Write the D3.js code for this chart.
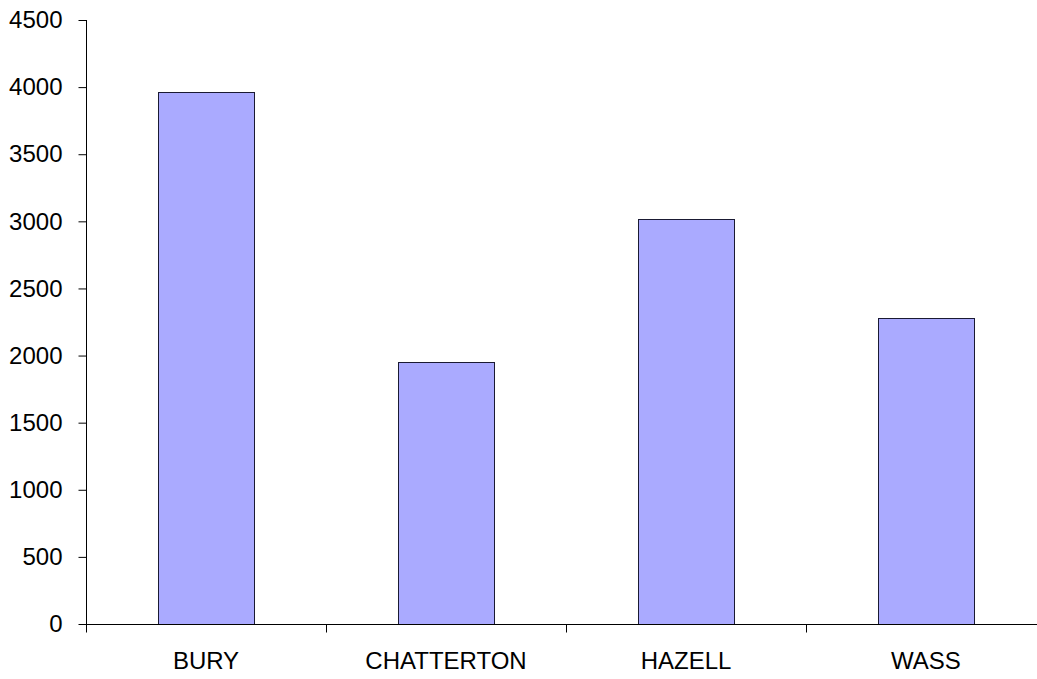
<!DOCTYPE html>
<html>
<head>
<meta charset="utf-8">
<script src="https://cdn.jsdelivr.net/npm/d3@7"></script>
<style>
  body { margin: 0; background: #fff; }
  text { font-family: Arial, "Liberation Sans", sans-serif; fill: #000; }
</style>
</head>
<body>
<div id="chart"></div>
<script>
var categories = ["BURY", "CHATTERTON", "HAZELL", "WASS"];
var values = [3960, 1950, 3015, 2280];
var yTicks = [0, 500, 1000, 1500, 2000, 2500, 3000, 3500, 4000, 4500];

var svgWidth = 1037;
var svgHeight = 679;

var margin = { top: 20, right: -9, bottom: 55, left: 86 };
var width = svgWidth - margin.left - margin.right;
var height = svgHeight - margin.top - margin.bottom;

var svg = d3.select("#chart")
  .append("svg")
  .attr("width", svgWidth)
  .attr("height", svgHeight);

var chartGroup = svg.append("g")
  .attr("transform", `translate(${margin.left}, ${margin.top})`);

// category slots (tick marks sit on their edges)
var slotScale = d3.scaleBand()
  .domain(categories)
  .range([0, width]);

var xScale = d3.scaleBand()
  .domain(categories)
  .range([0, width])
  .paddingInner(0.6)
  .paddingOuter(0.3);

var yScale = d3.scaleLinear()
  .domain([0, 4500])
  .range([height, 0]);

// bars
chartGroup.selectAll("rect.bar")
  .data(values)
  .enter()
  .append("rect")
  .attr("class", "bar")
  .attr("x", (d, i) => Math.round(xScale(categories[i])) + 0.5)
  .attr("y", d => Math.round(yScale(d)) + 0.5)
  .attr("width", Math.round(xScale.bandwidth()))
  .attr("height", d => Math.round(height - yScale(d)))
  .attr("fill", "#aaaaff")
  .attr("stroke", "#1a1a33")
  .attr("stroke-width", 1);

// y axis
var yAxis = d3.axisLeft(yScale)
  .tickValues(yTicks)
  .tickSize(8)
  .tickPadding(16)
  .tickFormat(d3.format("d"));

var yAxisG = chartGroup.append("g")
  .attr("transform", "translate(0.5,0)")
  .call(yAxis);
yAxisG.select(".domain").attr("d", `M0,0V${height}`);
yAxisG.selectAll("text").style("font-size", "24px").style("font-family", "Arial, 'Liberation Sans', sans-serif");

// x axis
var xAxisG = chartGroup.append("g")
  .attr("transform", `translate(0, ${height + 0.5})`);

xAxisG.append("line")
  .attr("x1", 0)
  .attr("x2", width)
  .attr("stroke", "#000");

xAxisG.selectAll("line.tick")
  .data(categories)
  .enter()
  .append("line")
  .attr("class", "tick")
  .attr("x1", d => Math.round(slotScale(d)) + 0.5)
  .attr("x2", d => Math.round(slotScale(d)) + 0.5)
  .attr("y1", 0)
  .attr("y2", 8)
  .attr("stroke", "#000");

xAxisG.selectAll("text")
  .data(categories)
  .enter()
  .append("text")
  .attr("x", d => slotScale(d) + slotScale.bandwidth() / 2)
  .attr("y", 44)
  .attr("text-anchor", "middle")
  .style("font-size", "24px")
  .text(d => d);
</script>
</body>
</html>
